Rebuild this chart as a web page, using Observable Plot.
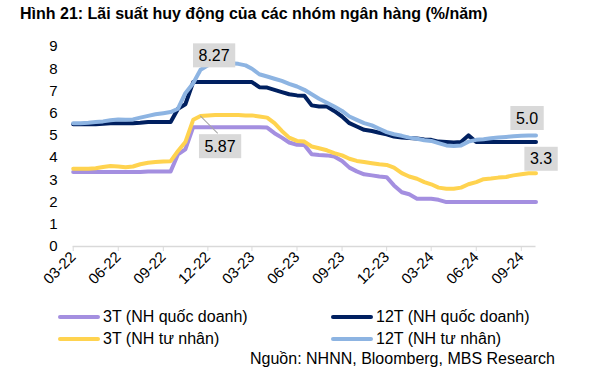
<!DOCTYPE html>
<html><head><meta charset="utf-8">
<script src="https://cdn.jsdelivr.net/npm/d3@7"></script>
<script src="https://cdn.jsdelivr.net/npm/@observablehq/plot@0.6"></script>
<style>
body{margin:0;background:#fff;font-family:"Liberation Sans",Arial,sans-serif;}
#wrap{position:relative;width:594px;height:370px;overflow:hidden;background:#fff}
#title{position:absolute;left:20px;top:5px;font-weight:bold;font-size:16px;line-height:18px;color:#000;white-space:nowrap}
#chart{position:absolute;left:0;top:0}
.leg{position:absolute;font-size:16px;line-height:18px;color:#000;white-space:nowrap;display:flex;align-items:center}
.sw{display:inline-block;width:42px;height:4px;border-radius:2px;margin-right:3px}
#source{position:absolute;right:39px;top:350px;font-size:16px;line-height:18px;color:#000;white-space:nowrap}
</style></head><body>
<div id="wrap">
<div id="title">Hình 21: Lãi suất huy động của các nhóm ngân hàng (%/năm)</div>
<div id="chart"></div>
<div id="legend"></div>
<div id="source">Nguồn: NHNN, Bloomberg, MBS Research</div>
</div>
<script>
const dates = [
"2022-03-01","2022-03-16","2022-04-01","2022-04-16","2022-05-01","2022-05-16","2022-06-01","2022-06-16",
"2022-07-01","2022-07-16","2022-08-01","2022-08-16","2022-09-01","2022-09-16","2022-10-01","2022-10-16",
"2022-11-01","2022-11-16","2022-12-01","2022-12-16",
"2023-01-01","2023-01-16","2023-02-01","2023-02-16","2023-03-01","2023-03-16","2023-04-01","2023-04-16",
"2023-05-01","2023-05-16","2023-06-01","2023-06-16","2023-07-01","2023-07-16","2023-08-01","2023-08-16",
"2023-09-01","2023-09-16","2023-10-01","2023-10-16","2023-11-01","2023-11-16","2023-12-01","2023-12-16",
"2024-01-01","2024-01-16","2024-02-01","2024-02-16","2024-03-01","2024-03-16","2024-04-01","2024-04-16",
"2024-05-01","2024-05-16","2024-06-01","2024-06-16","2024-07-01","2024-07-16","2024-08-01","2024-08-16",
"2024-09-01","2024-09-16","2024-10-01"];

// 3T (NH quốc doanh)
const qd3 = [3.35,3.35,3.35,3.35,3.35,3.35,3.35,3.35,3.35,3.35,3.38,3.38,3.38,3.38,4.15,4.37,
5.37,5.37,5.37,5.37,5.37,5.37,5.37,5.37,5.37,5.37,5.35,5.1,4.9,4.68,4.58,4.57,
4.15,4.12,4.1,4.05,3.85,3.55,3.38,3.25,3.2,3.15,3.12,2.75,2.44,2.35,2.15,2.15,
2.15,2.1,2.0,2.0,2.0,2.0,2.0,2.0,2.0,2.0,2.0,2.0,2.0,2.0,2.0];
// 12T (NH quốc doanh)
const qd12 = [5.5,5.5,5.5,5.5,5.52,5.55,5.55,5.55,5.55,5.57,5.6,5.6,5.6,5.6,6.2,6.4,
7.4,7.4,7.4,7.4,7.4,7.4,7.4,7.4,7.4,7.17,7.15,7.05,6.95,6.85,6.8,6.78,
6.35,6.3,6.3,6.1,5.85,5.55,5.4,5.25,5.2,5.12,5.05,4.95,4.9,4.88,4.86,4.82,
4.8,4.72,4.7,4.68,4.7,5.0,4.7,4.7,4.7,4.7,4.7,4.7,4.7,4.7,4.7];
// 3T (NH tư nhân)
const tn3 = [3.5,3.5,3.5,3.52,3.58,3.62,3.6,3.57,3.6,3.7,3.77,3.8,3.83,3.84,4.3,4.7,
5.7,5.87,5.9,5.92,5.92,5.92,5.92,5.9,5.9,5.85,5.8,5.55,5.2,4.9,4.75,4.72,
4.5,4.42,4.33,4.2,4.1,3.95,3.85,3.8,3.75,3.7,3.67,3.55,3.3,3.15,3.05,2.9,
2.8,2.65,2.6,2.6,2.65,2.8,2.9,3.03,3.06,3.1,3.13,3.2,3.25,3.3,3.3];
// 12T (NH tư nhân)
const tn12 = [5.55,5.55,5.57,5.6,5.63,5.68,5.72,5.7,5.72,5.8,5.88,5.95,6.0,6.05,6.2,6.9,
7.35,7.95,8.15,8.25,8.27,8.25,8.22,8.15,8.0,7.75,7.65,7.55,7.45,7.32,7.2,7.05,
6.85,6.65,6.47,6.3,6.1,5.85,5.7,5.55,5.45,5.3,5.15,5.05,4.98,4.9,4.85,4.78,
4.75,4.65,4.55,4.52,4.55,4.72,4.8,4.83,4.87,4.9,4.93,4.96,4.98,5.0,5.0];

const seriesNames = ["3T (NH quốc doanh)","12T (NH quốc doanh)","3T (NH tư nhân)","12T (NH tư nhân)"];
const seriesColors = ["#A48FE0","#002060","#FFD34F","#8DB4E2"];
const yTicks = [0,1,2,3,4,5,6,7,8,9];
const xTickDates = ["2022-03-01","2022-06-01","2022-09-01","2022-12-01","2023-03-01","2023-06-01",
"2023-09-01","2023-12-01","2024-03-01","2024-06-01","2024-09-01"];

const parse = d3.utcParse("%Y-%m-%d");
const allSeries = [qd3, qd12, tn3, tn12];
const data = allSeries.flatMap((vals, s) => vals.map((v, i) => ({date: parse(dates[i]), value: v, series: seriesNames[s]})));
const pt = (vals, i) => ({date: parse(dates[i]), value: vals[i]});

const a827 = pt(tn12, d3.maxIndex(tn12));
const a587 = pt(tn3, tn3.indexOf(5.87));
const a50 = pt(tn12, tn12.length - 1);
const a33 = pt(tn3, tn3.length - 1);

const font = "'Liberation Sans', Arial, sans-serif";
const chart = Plot.plot({
  width: 594, height: 300,
  marginLeft: 72.7, marginRight: 58.5, marginTop: 46, marginBottom: 54,
  style: {fontFamily: font, fontSize: "15px", color: "#000", background: "transparent"},
  x: {type: "utc", domain: [parse(dates[0]), parse(dates[dates.length - 1])]},
  y: {domain: [0, 9]},
  color: {domain: seriesNames, range: seriesColors},
  marks: [
    Plot.ruleY([0], {stroke: "#D9D9D9", strokeWidth: 1.5}),
    Plot.axisY({ticks: yTicks, tickSize: 0, tickPadding: 15.5, fontSize: 15, label: null, fill: "#000"}),
    Plot.axisX({ticks: xTickDates.map(parse), tickFormat: d3.utcFormat("%m-%y"), tickRotate: -45,
      tickSize: 5, tickPadding: 3, stroke: "#D9D9D9", fill: "#000", fontSize: 15, label: null}),
    Plot.line(data, {x: "date", y: "value", z: "series", stroke: "series", strokeWidth: 4, curve: "linear"}),
    Plot.vector([a587], {x: "date", y: "value", length: 24, rotate: 135, anchor: "start", stroke: "#A6A6A6", strokeWidth: 1,
      shape: {draw(ctx, l) { ctx.moveTo(0, 0); ctx.lineTo(0, -l); }}}),
    Plot.text([a827], {x: "date", y: "value", text: d => d.value.toFixed(2), dx: -9, dy: -7, fontSize: 16, fill: "#000", textAnchor: "middle", lineAnchor: "middle"}),
    Plot.text([a587], {x: "date", y: "value", text: d => d.value.toFixed(2), dx: 19.5, dy: 30.5, fontSize: 16, fill: "#000", textAnchor: "middle", lineAnchor: "middle"}),
    Plot.text([a50], {x: "date", y: "value", text: d => d.value.toFixed(1), dx: -9, dy: -17, fontSize: 16, fill: "#000", textAnchor: "middle", lineAnchor: "middle"}),
    Plot.text([a33], {x: "date", y: "value", text: d => d.value.toFixed(1), dx: 5, dy: -14, fontSize: 16, fill: "#000", textAnchor: "middle", lineAnchor: "middle"})
  ]
});
document.getElementById("chart").appendChild(chart);

// gray label boxes behind annotation texts
chart.querySelectorAll('g[aria-label="text"] text').forEach(t => {
  const b = t.getBBox();
  const r = document.createElementNS("http://www.w3.org/2000/svg", "rect");
  const cy = b.y + b.height / 2;
  r.setAttribute("x", b.x - 5.5);
  r.setAttribute("y", cy - 12);
  r.setAttribute("width", b.width + 11);
  r.setAttribute("height", 24);
  r.setAttribute("fill", "#D9D9D9");
  r.setAttribute("stroke", "none");
  const tr = t.getAttribute("transform");
  if (tr) r.setAttribute("transform", tr);
  t.parentNode.insertBefore(r, t);
});

// legend
const legPos = [[58, 308], [331, 308], [58, 330], [331, 330]];
const leg = document.getElementById("legend");
seriesNames.forEach((n, i) => {
  const d = document.createElement("div");
  d.className = "leg";
  d.style.left = legPos[i][0] + "px";
  d.style.top = legPos[i][1] + "px";
  d.innerHTML = `<span class="sw" style="background:${seriesColors[i]}"></span>${n}`;
  leg.appendChild(d);
});
</script>
</body></html>
